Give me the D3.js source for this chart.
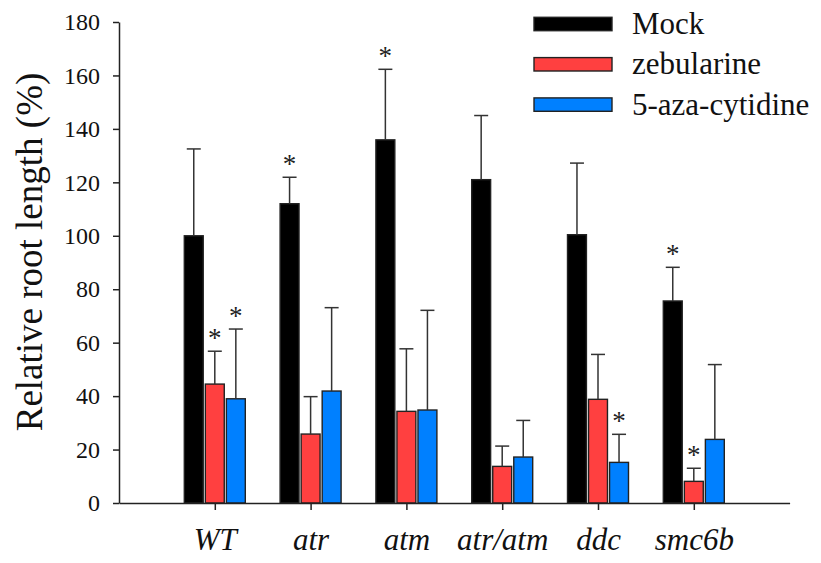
<!DOCTYPE html>
<html>
<head>
<meta charset="utf-8">
<script src="https://cdn.jsdelivr.net/npm/d3@7"></script>
<style>
  html, body { margin: 0; padding: 0; background: #fff; }
  svg { display: block; }
  svg text { font-family: "Liberation Serif", "Times New Roman", serif; }
</style>
</head>
<body>
<svg id="chart" width="821" height="563"></svg>
<script>
// Genotypes on the x axis
const genotypes = ["WT", "atr", "atm", "atr/atm", "ddc", "smc6b"];
// Treatments
const series = ["Mock", "zebularine", "5-aza-cytidine"];
const seriesColors = ["#000000", "#ff4040", "#0080ff"];

// Mean relative root length (%) per treatment, in genotype order
const mockValues = [100.0, 112.0, 135.9, 121.0, 100.4, 75.6];
const zebValues  = [44.5, 25.8, 34.3, 13.7, 38.8, 8.1];
const azaValues  = [39.0, 41.9, 34.8, 17.2, 15.2, 23.8];

// Upper end of the error bar (mean + SD)
const mockUpper = [132.5, 121.9, 162.3, 145.0, 127.2, 88.2];
const zebUpper  = [56.8, 39.8, 57.7, 21.3, 55.6, 13.0];
const azaUpper  = [65.1, 73.1, 72.1, 30.9, 25.7, 51.8];

// Significance marks (true = asterisk)
const mockSig = [false, true, true, false, false, true];
const zebSig  = [true, false, false, false, false, true];
const azaSig  = [true, false, false, false, true, false];

const yTicks = [0, 20, 40, 60, 80, 100, 120, 140, 160, 180];

const valueSets = [mockValues, zebValues, azaValues];
const upperSets = [mockUpper, zebUpper, azaUpper];
const sigSets = [mockSig, zebSig, azaSig];

const rows = [];
genotypes.forEach((g, gi) => {
  series.forEach((s, si) => {
    rows.push({ g, gi, s, si, value: valueSets[si][gi], upper: upperSets[si][gi], sig: sigSets[si][gi] });
  });
});

const serif = '"Liberation Serif", "Times New Roman", serif';
const svg = d3.select("#chart");
const axisX0 = 119, axisX1 = 789.6, axisY0 = 503, axisY1 = 22;

const x = d3.scaleLinear().domain([0, genotypes.length + 1]).range([axisX0, axisX1]);
const x1 = d3.scaleBand().domain(series).range([-30.5, 30.5]).paddingInner(0.1);
const y = d3.scaleLinear().domain([0, 180]).range([axisY0, axisY1]);
const color = d3.scaleOrdinal().domain(series).range(seriesColors);

const ink = "#222";

// Bars
svg.append("g").selectAll("rect")
  .data(rows)
  .join("rect")
  .attr("x", d => x(d.gi + 1) + x1(d.s))
  .attr("y", d => y(d.value))
  .attr("width", x1.bandwidth())
  .attr("height", d => y(0) - y(d.value))
  .attr("fill", d => color(d.s))
  .attr("stroke", ink)
  .attr("stroke-width", 1.4);

// Error bars (upper only)
const capHalf = 7;
const eb = svg.append("g").attr("stroke", "#333").attr("stroke-width", 1.5);
rows.forEach(d => {
  const cx = x(d.gi + 1) + x1(d.s) + x1.bandwidth() / 2;
  eb.append("line").attr("x1", cx).attr("x2", cx).attr("y1", y(d.value)).attr("y2", y(d.upper));
  eb.append("line").attr("x1", cx - capHalf).attr("x2", cx + capHalf).attr("y1", y(d.upper)).attr("y2", y(d.upper));
});

// Asterisks
svg.append("g").selectAll("text")
  .data(rows.filter(d => d.sig))
  .join("text")
  .attr("x", d => x(d.gi + 1) + x1(d.s) + x1.bandwidth() / 2)
  .attr("y", d => y(d.upper) - 4)
  .attr("text-anchor", "middle")
  .style("font-family", serif)
  .style("font-size", "27px")
  .attr("fill", ink)
  .text("*");

// Y axis
const yAxis = svg.append("g")
  .attr("transform", `translate(${axisX0},0)`)
  .call(d3.axisLeft(y).tickValues(yTicks).tickSize(6).tickPadding(13).tickSizeOuter(0));
yAxis.select(".domain").attr("stroke", ink).attr("stroke-width", 1.5);
yAxis.selectAll(".tick line").attr("stroke", ink).attr("stroke-width", 1.5);
yAxis.selectAll(".tick text")
  .style("font-family", serif)
  .style("font-size", "24px").attr("fill", "#111");

// X axis
const xAxis = svg.append("g")
  .attr("transform", `translate(0,${axisY0})`)
  .call(d3.axisBottom(x).tickValues(d3.range(1, genotypes.length + 1))
    .tickFormat(i => genotypes[i - 1]).tickSize(7).tickPadding(18).tickSizeOuter(0));
xAxis.select(".domain").attr("stroke", ink).attr("stroke-width", 1.5);
xAxis.selectAll(".tick line").attr("stroke", ink).attr("stroke-width", 1.5);
xAxis.selectAll(".tick text")
  .style("font-family", serif)
  .style("font-style", "italic")
  .style("font-size", "31px").attr("fill", "#111");

// Y axis title
svg.append("text")
  .attr("transform", `translate(42,252) rotate(-90)`)
  .attr("text-anchor", "middle")
  .style("font-family", serif)
  .style("font-size", "37px")
  .attr("fill", "#111")
  .text("Relative root length (%)");

// Legend
const legend = svg.append("g");
series.forEach((s, i) => {
  const cy = 24 + i * 40.3;
  legend.append("rect")
    .attr("x", 534).attr("y", cy - 6.7).attr("width", 78).attr("height", 13.4)
    .attr("fill", color(s)).attr("stroke", ink).attr("stroke-width", 1.4);
  legend.append("text")
    .attr("x", 632).attr("y", cy + 10)
    .style("font-family", serif)
    .style("font-size", "31px").attr("fill", "#111")
    .text(s);
});
</script>
</body>
</html>
